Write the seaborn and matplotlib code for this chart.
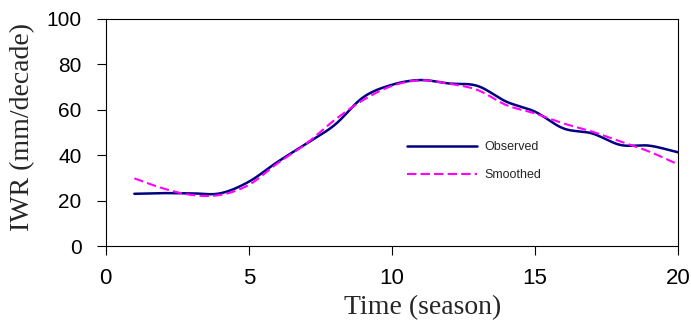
import numpy as np
import pandas as pd
import seaborn as sns
import matplotlib.pyplot as plt

season = list(range(1, 21))
observed = [23.0, 23.3, 23.2, 23.2, 28.3, 37.0, 45.0, 53.3, 65.5, 71.0,
            73.1, 71.6, 70.5, 63.6, 59.2, 51.8, 49.6, 44.5, 44.2, 41.3]
smoothed = [29.8, 25.4, 22.5, 22.5, 26.9, 36.4, 45.0, 55.5, 64.3, 70.5,
            73.0, 71.5, 68.7, 62.1, 58.4, 54.0, 50.4, 46.0, 41.6, 36.0]


def smooth_curve(x, y, n=20):
    # catmull-rom through the points, like the smoothed line option in a spreadsheet
    x = np.asarray(x, float)
    y = np.asarray(y, float)
    px = np.concatenate([[2 * x[0] - x[1]], x, [2 * x[-1] - x[-2]]])
    py = np.concatenate([[2 * y[0] - y[1]], y, [2 * y[-1] - y[-2]]])
    xs, ys = [], []
    t = np.linspace(0, 1, n, endpoint=False)
    for i in range(1, len(px) - 2):
        for p, out in ((px, xs), (py, ys)):
            p0, p1, p2, p3 = p[i - 1], p[i], p[i + 1], p[i + 2]
            out.extend(0.5 * ((2 * p1) + (-p0 + p2) * t
                              + (2 * p0 - 5 * p1 + 4 * p2 - p3) * t ** 2
                              + (-p0 + 3 * p1 - 3 * p2 + p3) * t ** 3))
    xs.append(x[-1])
    ys.append(y[-1])
    return np.array(xs), np.array(ys)


sns.set_style("ticks")
fig = plt.figure(figsize=(6.91, 3.22), dpi=100)
ax = fig.add_axes([0.153, 0.236, 0.828, 0.705])

ox, oy = smooth_curve(season, observed)
sx, sy = smooth_curve(season, smoothed)
sns.lineplot(x=ox, y=oy, ax=ax, color="#000080", lw=1.8, label="Observed", sort=False)
sns.lineplot(x=sx, y=sy, ax=ax, color="#FF00FF", lw=1.5, label="Smoothed", sort=False)
ax.lines[1].set_dashes([4.5, 2])

ax.set_xlim(0, 20)
ax.set_ylim(0, 100)
ax.set_xticks([0, 5, 10, 15, 20])
ax.set_yticks([0, 20, 40, 60, 80, 100])
ax.tick_params(direction="out", length=6.5, width=0.8, colors="black")
ax.tick_params(axis="x", labelsize=16, pad=9)
ax.tick_params(axis="y", labelsize=15, pad=11)
for lab in ax.get_xticklabels() + ax.get_yticklabels():
    lab.set_family("Liberation Sans")
for s in ax.spines.values():
    s.set_visible(True)
    s.set_color("black")
    s.set_linewidth(0.8)

ax.set_xlabel("Time (season)", family="Liberation Serif", fontsize=20)
ax.set_ylabel("IWR (mm/decade)", family="Liberation Serif", fontsize=20)
ax.xaxis.set_label_coords(0.554, -0.215)
ax.yaxis.set_label_coords(-0.124, 0.524)

leg = ax.legend(loc="upper left", bbox_to_anchor=(0.515, 0.49), frameon=False,
                prop={"family": "Liberation Sans", "size": 9},
                handlelength=5.6, handletextpad=0.6, labelspacing=1.3, borderpad=0)

fig.savefig("out.png", dpi=100)
